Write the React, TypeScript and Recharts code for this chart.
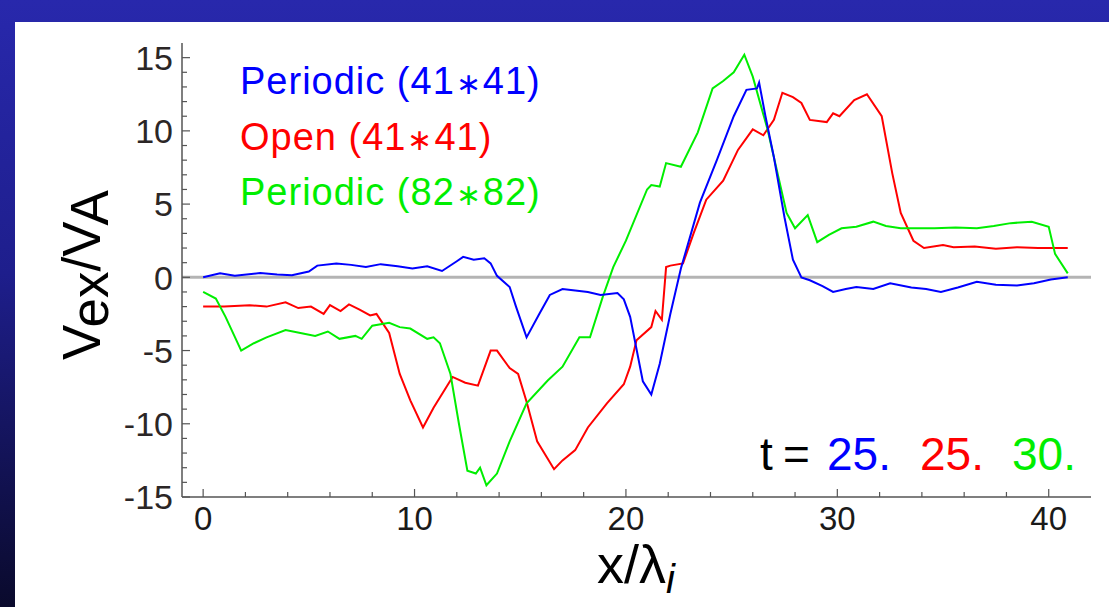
import React from 'react';
import { LineChart, Line, XAxis, YAxis, ReferenceLine } from 'recharts';

// Periodic (41*41), t = 25.
const periodic41X = [0, 0.8, 1.5, 2.7, 3.5, 4.2, 5.0, 5.4, 6.3, 7.0, 7.7, 8.4, 9.2, 9.9, 10.6, 11.3, 12.0, 12.3, 12.8, 13.3, 13.6, 13.9, 14.5, 14.8, 15.3, 15.9, 16.4, 17.0, 17.6, 18.2, 18.8, 19.6, 19.9, 20.2, 20.8, 21.2, 21.6, 22.1, 22.6, 23.5, 24.3, 25.1, 25.7, 26.2, 26.3, 26.6, 27.0, 27.5, 27.9, 28.3, 28.7, 29.3, 29.8, 30.4, 30.9, 31.7, 32.5, 33.5, 34.2, 34.9, 35.7, 36.6, 37.5, 38.5, 39.3, 40.1, 40.9];
const periodic41V = [0, 0.27, 0.1, 0.3, 0.2, 0.15, 0.4, 0.8, 0.95, 0.85, 0.7, 0.9, 0.75, 0.6, 0.75, 0.43, 1.1, 1.4, 1.2, 1.3, 0.95, 0.1, -0.66, -2.0, -4.1, -2.5, -1.2, -0.8, -0.9, -1.0, -1.2, -1.07, -1.5, -2.7, -7.1, -8.0, -5.9, -2.5, 0.6, 5.1, 8.0, 11.0, 12.8, 12.9, 13.3, 11.0, 8.2, 4.1, 1.2, 0, -0.2, -0.6, -1.0, -0.8, -0.66, -0.8, -0.4, -0.7, -0.8, -1.0, -0.7, -0.3, -0.5, -0.55, -0.4, -0.15, 0];

// Open (41*41), t = 25.
const open41X = [0, 1.0, 2.2, 3.0, 3.9, 4.5, 5.1, 5.7, 6.0, 6.5, 6.9, 7.4, 7.9, 8.2, 8.8, 9.3, 9.8, 10.4, 10.9, 11.8, 12.4, 13.0, 13.6, 13.9, 14.5, 14.9, 15.3, 15.8, 16.6, 17.0, 17.6, 18.2, 19.1, 19.9, 20.2, 20.5, 21.2, 21.4, 21.7, 21.9, 22.1, 22.7, 23.2, 23.8, 24.6, 25.3, 26.0, 26.5, 27.0, 27.4, 27.9, 28.3, 28.7, 29.5, 29.8, 30.1, 30.8, 31.4, 32.1, 32.6, 33.0, 33.6, 34.1, 35.0, 35.5, 36.5, 37.5, 38.5, 39.5, 40.9];
const open41V = [-2.0, -2.0, -1.9, -2.0, -1.7, -2.1, -2.0, -2.5, -1.9, -2.3, -1.85, -2.2, -2.6, -2.5, -3.8, -6.6, -8.4, -10.25, -8.9, -6.8, -7.2, -7.4, -5.0, -5.0, -6.2, -6.6, -8.5, -11.2, -13.1, -12.5, -11.8, -10.25, -8.6, -7.3, -6.1, -4.3, -3.4, -2.3, -2.9, 0.7, 0.8, 0.95, 3.0, 5.3, 6.6, 8.7, 10.1, 9.7, 10.75, 12.6, 12.3, 11.9, 10.75, 10.6, 11.2, 11.0, 12.1, 12.5, 11.0, 7.1, 4.4, 2.5, 2.0, 2.2, 2.05, 2.1, 1.95, 2.05, 2.0, 2.0];

// Periodic (82*82), t = 30.
const periodic82X = [0, 0.6, 1.06, 1.8, 2.4, 3.0, 3.9, 4.6, 5.3, 5.9, 6.45, 7.2, 7.5, 8.0, 8.8, 9.3, 9.8, 10.6, 10.9, 11.2, 11.7, 12.1, 12.5, 12.9, 13.1, 13.4, 13.9, 14.5, 15.3, 16.3, 17.0, 17.8, 18.3, 18.9, 19.4, 20.0, 21.0, 21.2, 21.6, 21.9, 22.6, 23.4, 24.1, 24.6, 25.1, 25.6, 26.0, 26.7, 27.6, 28.0, 28.6, 29.05, 29.6, 30.2, 30.9, 31.7, 32.3, 33.0, 34.6, 35.6, 36.6, 37.4, 38.2, 39.2, 40.0, 40.3, 40.9];
const periodic82V = [-1.0, -1.45, -2.7, -5.0, -4.5, -4.1, -3.6, -3.8, -4.0, -3.7, -4.2, -4.0, -4.2, -3.3, -3.1, -3.4, -3.5, -4.2, -4.1, -4.5, -6.6, -10.0, -13.2, -13.4, -13.0, -14.2, -13.4, -11.2, -8.6, -7.05, -6.1, -4.1, -4.1, -1.35, 0.7, 2.5, 6.0, 6.3, 6.2, 7.8, 7.55, 9.9, 12.9, 13.4, 14.0, 15.2, 13.7, 10.1, 4.4, 3.35, 4.25, 2.4, 2.9, 3.35, 3.45, 3.8, 3.5, 3.35, 3.35, 3.4, 3.35, 3.5, 3.7, 3.8, 3.45, 1.6, 0.27];

const xTicks = [0, 2, 4, 6, 8, 10, 12, 14, 16, 18, 20, 22, 24, 26, 28, 30, 32, 34, 36, 38, 40];
const xLabels = [0, 10, 20, 30, 40];
const yTicks = [-15, -14, -13, -12, -11, -10, -9, -8, -7, -6, -5, -4, -3, -2, -1, 0, 1, 2, 3, 4, 5, 6, 7, 8, 9, 10, 11, 12, 13, 14, 15];
const yLabels = [-15, -10, -5, 0, 5, 10, 15];

// legend text split around the centred asterisk
const seriesNames = [
  ['Periodic (41', '41)'],
  ['Open (41', '41)'],
  ['Periodic (82', '82)'],
];
const seriesTimes = ['25.', '25.', '30.'];
const colors = ['#0000ff', '#ff0000', '#00ee00'];

const toPoints = (xs: number[], vs: number[]) => xs.map((x, i) => ({ x, v: vs[i] }));
const periodic41 = toPoints(periodic41X, periodic41V);
const open41 = toPoints(open41X, open41V);
const periodic82 = toPoints(periodic82X, periodic82V);

const FONT = '"Liberation Sans", Arial, Helvetica, sans-serif';
const AXIS = '#555';
const LABEL = '#2b2626';

const LeftTick = (props: any) => {
  const { x, y, payload } = props;
  const major = yLabels.includes(payload.value);
  return (
    <g>
      <line x1={x} y1={y} x2={x + (major ? 8 : 5)} y2={y} stroke={AXIS} strokeWidth={1.2} />
      {major && (
        <text x={x - 9} y={y} dy="0.36em" textAnchor="end" fontSize={34} fill={LABEL} fontFamily={FONT}>
          {payload.value}
        </text>
      )}
    </g>
  );
};

const RightTick = (props: any) => {
  const { x, y, payload } = props;
  const major = yLabels.includes(payload.value);
  return <line x1={x} y1={y} x2={x - (major ? 8 : 5)} y2={y} stroke={AXIS} strokeWidth={1.2} />;
};

const BottomTick = (props: any) => {
  const { x, y, payload } = props;
  const major = xLabels.includes(payload.value);
  return (
    <g>
      <line x1={x} y1={y} x2={x} y2={y - (major ? 8 : 5)} stroke={AXIS} strokeWidth={1.2} />
      {major && (
        <text x={x} y={y + 33} textAnchor="middle" fontSize={33} fill="#1a1a1a" fontFamily={FONT}>
          {payload.value}
        </text>
      )}
    </g>
  );
};

const TopTick = (props: any) => {
  const { x, y, payload } = props;
  const major = xLabels.includes(payload.value);
  return <line x1={x} y1={y} x2={x} y2={y + (major ? 8 : 5)} stroke={AXIS} strokeWidth={1.2} />;
};

export default function App() {
  return (
    <div
      style={{
        position: 'absolute',
        left: 0,
        top: 0,
        width: 1109,
        height: 607,
        overflow: 'hidden',
        background: 'linear-gradient(to bottom, #2828ac 0%, #1e1e8c 45%, #0a0a2c 100%)',
      }}
    >
      <div style={{ position: 'absolute', left: 15, top: 22, width: 1094, height: 585, background: '#fff' }} />
      <div style={{ position: 'absolute', left: 0, top: 0 }}>
        <LineChart width={1109} height={607} margin={{ top: 43, right: 18, bottom: 0, left: 0 }}>
          <XAxis
            xAxisId="bottom"
            orientation="bottom"
            type="number"
            dataKey="x"
            domain={[-1, 42]}
            allowDataOverflow
            ticks={xTicks}
            interval={0}
            height={110}
            tickSize={0}
            tickMargin={0}
            tickLine={false}
            tick={<BottomTick />}
            axisLine={{ stroke: AXIS, strokeWidth: 1.5 }}
          />
          <XAxis
            xAxisId="top"
            orientation="top"
            type="number"
            dataKey="x"
            domain={[-1, 42]}
            allowDataOverflow
            ticks={xTicks}
            interval={0}
            height={0}
            tickSize={0}
            tickMargin={0}
            tickLine={false}
            tick={<TopTick />}
            axisLine={{ stroke: AXIS, strokeWidth: 1.5 }}
          />
          <YAxis
            yAxisId="left"
            orientation="left"
            type="number"
            domain={[-15, 16]}
            allowDataOverflow
            ticks={yTicks}
            interval={0}
            width={182}
            tickSize={0}
            tickMargin={0}
            tickLine={false}
            tick={<LeftTick />}
            axisLine={{ stroke: AXIS, strokeWidth: 1.5 }}
          />
          <YAxis
            yAxisId="right"
            orientation="right"
            type="number"
            domain={[-15, 16]}
            allowDataOverflow
            ticks={yTicks}
            interval={0}
            width={0}
            tickSize={0}
            tickMargin={0}
            tickLine={false}
            tick={<RightTick />}
            axisLine={{ stroke: AXIS, strokeWidth: 1.5 }}
          />
          <ReferenceLine xAxisId="bottom" yAxisId="left" y={0} stroke="#b4b4b4" strokeWidth={3} />
          <Line
            xAxisId="bottom"
            yAxisId="left"
            data={open41}
            dataKey="v"
            type="linear"
            stroke={colors[1]}
            strokeWidth={2}
            dot={false}
            isAnimationActive={false}
          />
          <Line
            xAxisId="bottom"
            yAxisId="left"
            data={periodic82}
            dataKey="v"
            type="linear"
            stroke={colors[2]}
            strokeWidth={2}
            dot={false}
            isAnimationActive={false}
          />
          <Line
            xAxisId="bottom"
            yAxisId="left"
            data={periodic41}
            dataKey="v"
            type="linear"
            stroke={colors[0]}
            strokeWidth={2}
            dot={false}
            isAnimationActive={false}
          />
        </LineChart>
      </div>
      <svg width={1109} height={607} style={{ position: 'absolute', left: 0, top: 0, pointerEvents: 'none' }}>
        {seriesNames.map(([a, b], i) => (
          <text key={i} x={240} y={94 + i * 55.5} fontSize={38} letterSpacing={1} fill={colors[i]} fontFamily={FONT}>
            {a}
            <tspan fontSize={30} dx={1}>{'\u2217'}</tspan>
            <tspan dx={1}>{b}</tspan>
          </text>
        ))}
        <text y={470} fontSize={46} fontFamily={FONT}>
          <tspan x={760} fill="#000">t</tspan>
          <tspan x={783} fill="#000">=</tspan>
          <tspan x={827} fill={colors[0]}>{seriesTimes[0]}</tspan>
          <tspan x={920} fill={colors[1]}>{seriesTimes[1]}</tspan>
          <tspan x={1012} fill={colors[2]}>{seriesTimes[2]}</tspan>
        </text>
        <text transform="translate(100,360) rotate(-90)" fontSize={53} fill="#000" fontFamily={FONT}>
          V<tspan dy={8}>ex</tspan>
          <tspan dy={-8}>/V</tspan>
          <tspan dy={8}>A</tspan>
        </text>
        <text x={597} y={583} fontSize={54} fill="#000" fontFamily={FONT}>
          x/λ<tspan dy={10} fontSize={40} fontStyle="italic">i</tspan>
        </text>
      </svg>
    </div>
  );
}
